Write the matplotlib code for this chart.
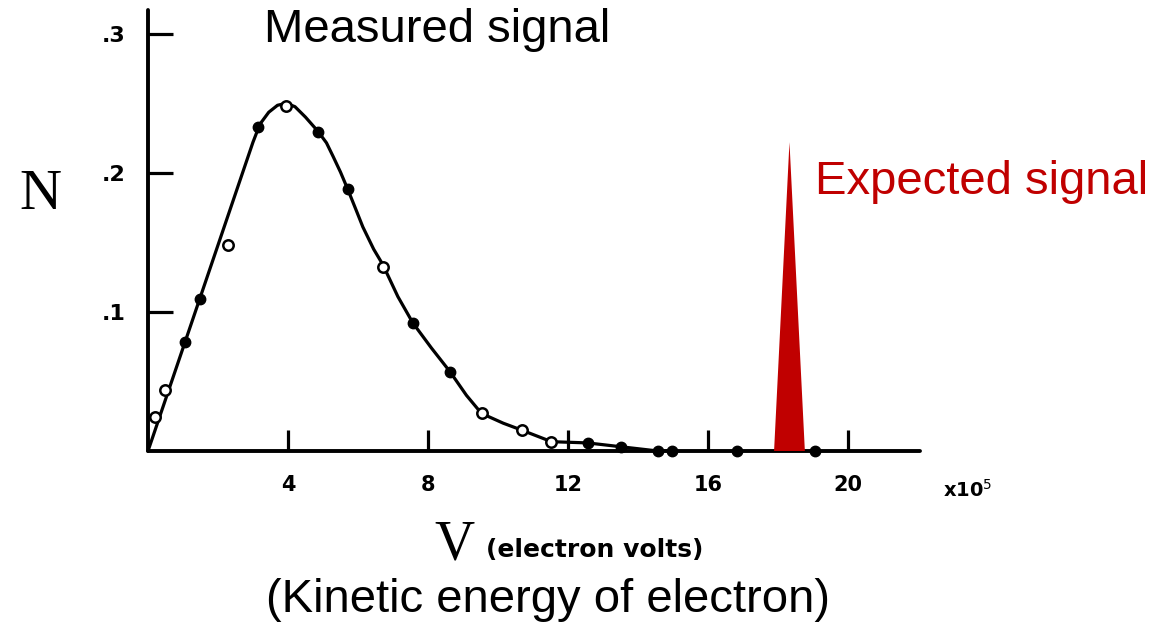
import matplotlib
matplotlib.use("Agg")
import matplotlib.pyplot as plt

# smooth curve drawn through the data
curve_x = [0.0, 3.0, 3.2, 3.45, 3.7, 3.95, 4.2, 4.5, 4.86, 5.1, 5.29, 5.5,
           5.71, 5.95, 6.14, 6.45, 6.71, 7.14, 7.57, 8.1, 8.63, 9.1, 9.53,
           10.15, 10.68, 11.53, 12.57, 13.53, 14.57, 15.0]
curve_y = [0.0, 0.222, 0.235, 0.2435, 0.2485, 0.2500, 0.2475, 0.240, 0.2297,
           0.2215, 0.2117, 0.2005, 0.188, 0.173, 0.161, 0.145, 0.134, 0.111,
           0.092, 0.074, 0.057, 0.040, 0.027, 0.020, 0.015, 0.0067, 0.0058,
           0.003, 0.0, 0.0]

# measured points, filled and open circles
filled_x = [1.06, 1.49, 3.15, 4.86, 5.72, 7.57, 8.63, 12.57, 13.53, 14.57, 14.96, 16.82, 19.06]
filled_y = [0.078, 0.109, 0.233, 0.229, 0.188, 0.092, 0.057, 0.0058, 0.003, 0.0, 0.0, 0.0, 0.0]
open_x = [0.2, 0.49, 2.28, 3.94, 6.72, 9.53, 10.68, 11.53]
open_y = [0.0245, 0.044, 0.148, 0.248, 0.132, 0.027, 0.015, 0.0067]

# expected (mono-energetic) signal
spike_center = 18.33
spike_halfwidth = 0.44
spike_height = 0.222

xticks = [4, 8, 12, 16, 20]
xtick_labels = ["4", "8", "12", "16", "20"]
yticks = [0.1, 0.2, 0.3]
ytick_labels = [".1", ".2", ".3"]

W, H = 1158, 633
fig = plt.figure(figsize=(W / 100, H / 100), dpi=100)
ax = fig.add_axes([148 / W, 1 - 451 / H, (920 - 148) / W, 441 / H])
ax.set_xlim(0, 22.06)
ax.set_ylim(0, 0.317)

ax.plot(curve_x, curve_y, color="black", lw=2.3, solid_capstyle="round",
        solid_joinstyle="round", zorder=3)
ax.plot(filled_x, filled_y, "o", color="black", ms=7.5, zorder=4, clip_on=False)
ax.plot(open_x, open_y, "o", mfc="white", mec="black", mew=1.8, ms=7.5, zorder=4, clip_on=False)

sx = [spike_center - spike_halfwidth, spike_center, spike_center + spike_halfwidth]
sy = [0, spike_height, 0]
ax.fill(sx, sy, color="#C00000", lw=0, zorder=6, clip_on=False)

for side in ["top", "right"]:
    ax.spines[side].set_visible(False)
for side in ["left", "bottom"]:
    ax.spines[side].set_linewidth(2.8)
    ax.spines[side].set_capstyle("round")

ax.set_xticks(xticks)
ax.set_xticklabels(xtick_labels)
ax.set_yticks(yticks)
ax.set_yticklabels(ytick_labels)
ax.tick_params(axis="x", direction="in", length=15, width=2.3, pad=17,
               labelsize=15)
ax.tick_params(axis="y", direction="in", length=18, width=2.3, pad=16,
               labelsize=16)
for lab in ax.get_xticklabels() + ax.get_yticklabels():
    lab.set_fontweight("bold")
    lab.set_family("DejaVu Sans")

def ft(x, y, s, **kw):
    fig.text(x / W, 1 - y / H, s, **kw)

ft(437, 30, "Measured signal", fontsize=34, family="Liberation Sans",
   ha="center", va="center")
ft(982, 182, "Expected signal", fontsize=34, family="Liberation Sans",
   color="#C00000", ha="center", va="center")
ft(548, 600, "(Kinetic energy of electron)", fontsize=34,
   family="Liberation Sans", ha="center", va="center")
ft(40, 195, "N", fontsize=42, family="Liberation Serif", ha="center", va="center")
ft(454, 545, "V", fontsize=40, family="Liberation Serif", ha="center", va="center")
ft(486, 550, "(electron volts)", fontsize=18, family="DejaVu Sans",
   fontweight="bold", ha="left", va="center")
ft(943, 490, "x10$^5$", fontsize=14, family="DejaVu Sans", fontweight="bold",
   ha="left", va="center")

fig.savefig("out.png", dpi=100)
